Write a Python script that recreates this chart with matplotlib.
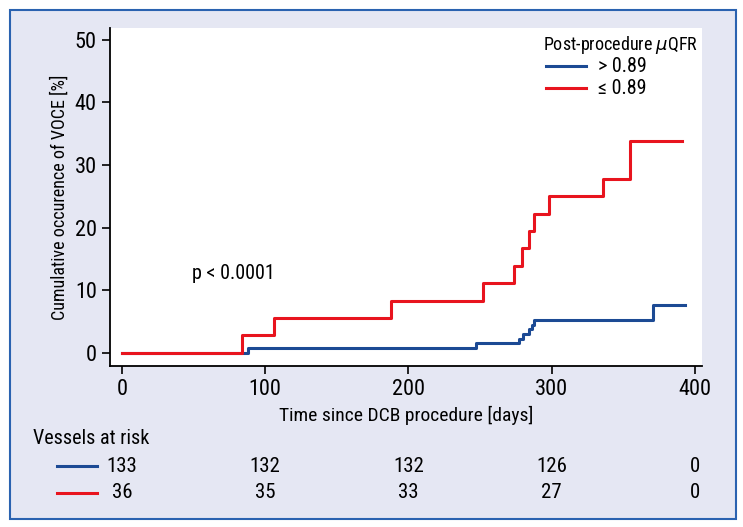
import matplotlib
matplotlib.use('Agg')
import matplotlib.pyplot as plt
from matplotlib.patches import Rectangle
from matplotlib.lines import Line2D

# step data (days, cumulative %)
blue_t = [0, 88, 247, 277, 280, 284, 286, 288, 371, 393]
blue_y = [0, 0.75, 1.5, 2.26, 3.0, 3.76, 4.5, 5.26, 7.7, 7.7]
red_t = [0, 84, 106, 188, 252, 274, 279, 284, 288, 298, 336, 355, 391]
red_y = [0, 2.8, 5.6, 8.3, 11.1, 13.9, 16.7, 19.4, 22.2, 25.0, 27.8, 33.8, 33.8]

risk_times = [0, 100, 200, 300, 400]
risk_blue = ['133', '132', '132', '126', '0']
risk_red = ['36', '35', '33', '27', '0']
groups = ['> 0.89', '\u2264 0.89']

blue = '#1c4a94'
red = '#e8141e'
bg = '#e5e7f3'
narrow = ['Liberation Sans Narrow', 'Roboto Condensed', 'Liberation Sans', 'DejaVu Sans']
W, H = 743., 527.

fig = plt.figure(figsize=(7.43, 5.27), dpi=100)
fig.patch.set_facecolor('white')
fig.patches.append(Rectangle((10/W, 1-519/H), 726/W, 509/H, transform=fig.transFigure,
                             facecolor=bg, edgecolor='#2a62b0', linewidth=1.5, zorder=-5))

ax = fig.add_axes([110/W, 1-366/H, 592/W, 338/H])
ax.set_zorder(2)
ax.set_facecolor('white')
ax.step(blue_t, blue_y, where='post', color=blue, linewidth=2.2, zorder=3)
ax.step(red_t, red_y, where='post', color=red, linewidth=2.2, zorder=4)

ax.set_xlim(-8.4, 405)
ax.set_ylim(-2.1, 51.9)
ax.set_xticks([0, 100, 200, 300, 400])
ax.set_yticks([0, 10, 20, 30, 40, 50])
for s in ['top', 'right']:
    ax.spines[s].set_visible(False)
for s in ['left', 'bottom']:
    ax.spines[s].set_linewidth(1.3)
ax.tick_params(length=6, width=1.2, direction='out', labelsize=16)
for lab in ax.get_xticklabels() + ax.get_yticklabels():
    lab.set_family(narrow)

ax.set_ylabel('Cumulative occurence of VOCE [%]', fontsize=13, family=narrow, labelpad=4)
ax.set_xlabel('Time since DCB procedure [days]', fontsize=14, family=narrow, labelpad=4)

ax.text(49, 12.6, 'p < 0.0001', fontsize=14.5, family=narrow, va='center', ha='left')

# legend drawn by hand in figure pixels
fig.text(543/W, 1-45/H, 'Post-procedure $\\mu$QFR', fontsize=13, family=narrow,
         va='center', ha='left', zorder=5)
for yp, col, lab in [(66, blue, groups[0]), (88, red, groups[1])]:
    fy = 1 - yp/H
    fig.add_artist(Line2D([546/W, 586/W], [fy, fy], color=col, lw=2.2, zorder=5))
    fig.text(598/W, fy, lab, fontsize=14.5, family=narrow, va='center', ha='left', zorder=5)

# number at risk table
fig.text(33/W, 1-438/H, 'Vessels at risk', fontsize=14.5, family=narrow, va='center', ha='left')
for yp, col, vals in [(466, blue, risk_blue), (493, red, risk_red)]:
    fy = 1 - yp/H
    fig.add_artist(Line2D([57/W, 97/W], [fy, fy], color=col, lw=2.2))
    for t, v in zip(risk_times, vals):
        xp = ax.transData.transform((t, 0))[0] / fig.bbox.width
        fig.text(xp, fy, v, fontsize=15, family=narrow, va='center', ha='center')

fig.savefig('out.png', dpi=100, facecolor='white')
